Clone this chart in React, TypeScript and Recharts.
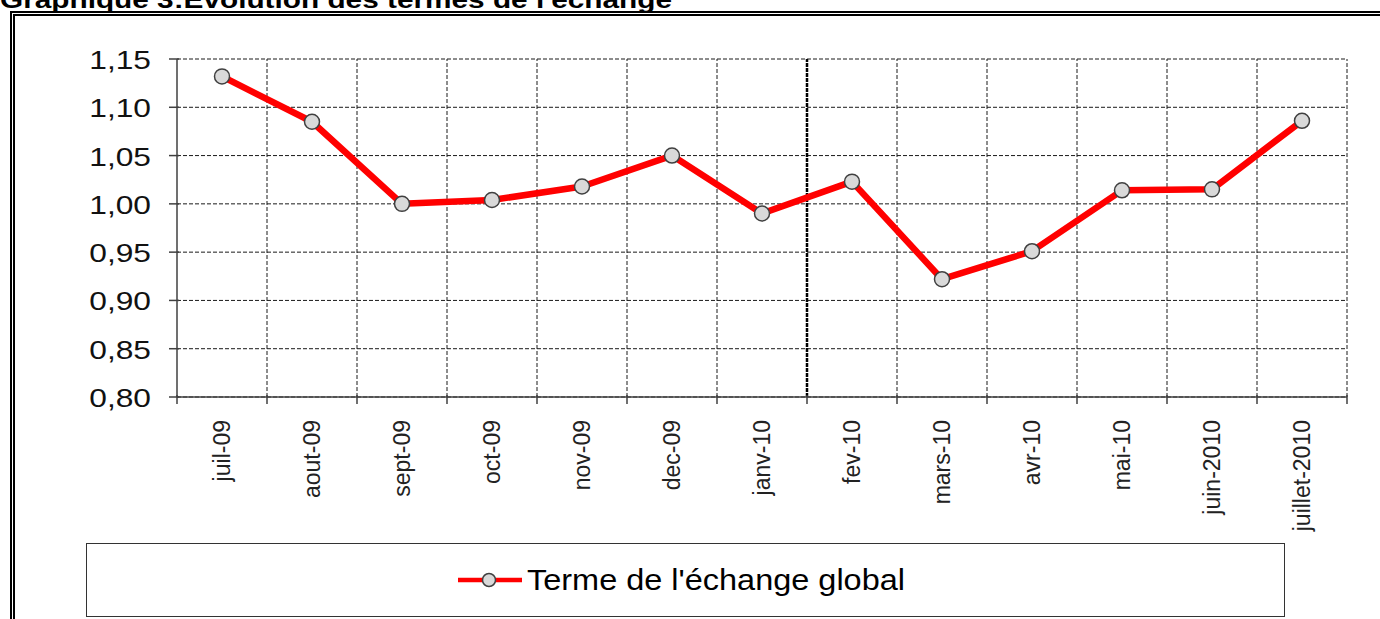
import React from 'react';
import { LineChart, Line, XAxis, YAxis, CartesianGrid, ReferenceLine, Legend } from 'recharts';

const categories = ['juil-09', 'aout-09', 'sept-09', 'oct-09', 'nov-09', 'dec-09', 'janv-10', 'fev-10', 'mars-10', 'avr-10', 'mai-10', 'juin-2010', 'juillet-2010'];
const values = [1.132, 1.085, 1.0, 1.004, 1.018, 1.05, 0.99, 1.023, 0.922, 0.951, 1.014, 1.015, 1.086];
const yTicks = [0.8, 0.85, 0.9, 0.95, 1.0, 1.05, 1.1, 1.15];
const seriesName = "Terme de l'échange global";
const title = "Graphique 3:Evolution des termes de l'échange";

const data = categories.map((name, i) => ({ idx: i, name, value: values[i] }));
// tick marks sit between categories, labels on the categories
const xTicks = [-0.5, ...categories.flatMap((_, i) => [i, i + 0.5])];
const boundaries = categories.map((_, i) => i + 0.5);
const strongBoundary = 6.5;

const FONT = '"Liberation Sans", Arial, sans-serif';
const AXIS = '#404040';
const GRID = '#1a1a1a';

const XTick = ({ x, y, payload }: any) => {
  const v = payload.value;
  if (Number.isInteger(v)) {
    return (
      <text transform={`translate(${x},${y + 23}) rotate(-90)`} textAnchor="end" dy="0.35em" fontSize={23} fill="#222" fontFamily={FONT}>
        {categories[v]}
      </text>
    );
  }
  return <line x1={x} x2={x} y1={y - 2} y2={y + 7} stroke={AXIS} strokeWidth={1.5} />;
};

const YTick = ({ x, y, payload }: any) => (
  <g>
    <line x1={x - 8} x2={x + 2} y1={y} y2={y} stroke={AXIS} strokeWidth={1.5} />
    <text transform={`translate(${x - 26},${y}) scale(1.27,1)`} textAnchor="end" dy="0.4em" fontSize={25} fill="#111" fontFamily={FONT}>
      {payload.value.toFixed(2).replace('.', ',')}
    </text>
  </g>
);

const LegendBox = ({ payload }: any) => {
  const label = payload && payload[0] ? payload[0].value : seriesName;
  return (
    <div style={{ position: 'relative', boxSizing: 'border-box', width: 1199, height: 74, border: '1.5px solid #333', background: '#fff' }}>
      <svg width={1199} height={74} style={{ position: 'absolute', left: -1.5, top: -1.5 }}>
        <line x1={372} x2={436} y1={37} y2={37} stroke="#ff0000" strokeWidth={4.5} />
        <circle cx={403} cy={37} r={6.5} fill="#d9d9d9" stroke={AXIS} strokeWidth={1.5} />
        <text x={441} y={47} fontSize={29} fill="#000" fontFamily={FONT} textLength={378} lengthAdjust="spacingAndGlyphs">
          {label}
        </text>
      </svg>
    </div>
  );
};

export default function App() {
  return (
    <div style={{ position: 'fixed', left: 0, top: 0, width: 1380, height: 619, overflow: 'hidden', background: '#fff' }}>
      <svg width={1380} height={20} style={{ position: 'absolute', left: 0, top: 0 }}>
        <text x={0} y={8} fontSize={24} fontWeight="bold" fill="#000" fontFamily={FONT} textLength={672} lengthAdjust="spacingAndGlyphs">
          {title}
        </text>
      </svg>
      <div style={{ position: 'absolute', left: 10, top: 11, width: 1420, height: 700, border: '5px double #000' }} />
      <div style={{ position: 'absolute', left: 0, top: 0 }}>
        <LineChart width={1380} height={619} data={data} margin={{ top: 59, right: 33, left: 77, bottom: 72 }}>
          <CartesianGrid vertical={false} stroke={GRID} strokeDasharray="4 2" />
          {boundaries.map((b) => (
            <ReferenceLine
              key={b}
              x={b}
              stroke={b === strongBoundary ? '#000' : GRID}
              strokeWidth={b === strongBoundary ? 2.5 : 1}
              strokeDasharray={b === strongBoundary ? '4 1' : '4 2'}
            />
          ))}
          <XAxis
            dataKey="idx"
            type="number"
            domain={[-0.5, 12.5]}
            ticks={xTicks}
            interval={0}
            height={150}
            tickSize={0}
            tickMargin={0}
            tickLine={false}
            axisLine={{ stroke: AXIS, strokeWidth: 1.5 }}
            tick={<XTick />}
          />
          <YAxis
            type="number"
            domain={[0.8, 1.15]}
            ticks={yTicks}
            interval={0}
            width={100}
            tickSize={0}
            tickMargin={0}
            tickLine={false}
            axisLine={{ stroke: AXIS, strokeWidth: 1.5 }}
            tick={<YTick />}
          />
          <Legend
            layout="horizontal"
            verticalAlign="middle"
            align="center"
            wrapperStyle={{ left: 86, top: 543, width: 1199, height: 74 }}
            content={<LegendBox />}
          />
          <Line
            type="linear"
            dataKey="value"
            name={seriesName}
            stroke="#ff0000"
            strokeWidth={6.5}
            strokeLinejoin="round"
            dot={{ r: 7.5, fill: '#d9d9d9', stroke: AXIS, strokeWidth: 1.5 }}
            activeDot={false}
            isAnimationActive={false}
          />
        </LineChart>
      </div>
    </div>
  );
}
